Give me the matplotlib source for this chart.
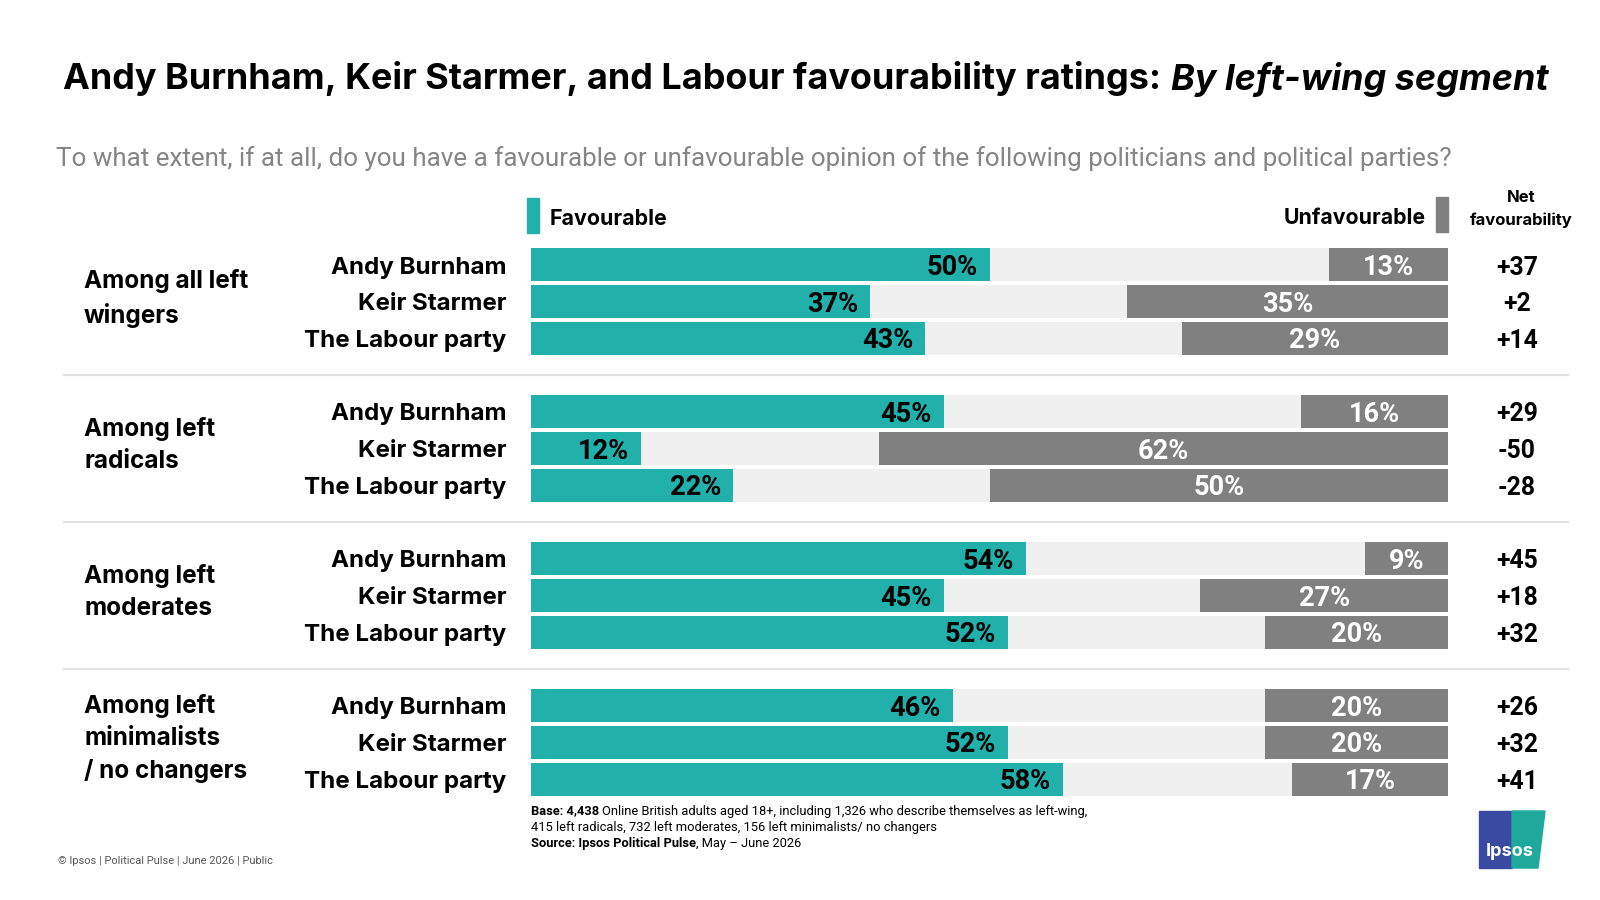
import matplotlib
matplotlib.use('Agg')
import matplotlib.pyplot as plt
import matplotlib.transforms as mtransforms
from matplotlib.patches import Rectangle, Polygon

# Data
groups = ['Among all left\nwingers', 'Among left\nradicals', 'Among left\nmoderates',
          'Among left\nminimalists\n/ no changers']
items = ['Andy Burnham', 'Keir Starmer', 'The Labour party']
favourable = [[50, 37, 43], [45, 12, 22], [54, 45, 52], [46, 52, 58]]
unfavourable = [[13, 35, 29], [16, 62, 50], [9, 27, 20], [20, 20, 17]]
net = [['+37', '+2', '+14'], ['+29', '-50', '-28'], ['+45', '+18', '+32'], ['+26', '+32', '+41']]

TEAL = '#21b0aa'
GREY = '#808080'
TRACK = '#f0f0f0'
W, H = 1600, 900

plt.rcParams['font.family'] = ['Inter', 'DejaVu Sans']


def fx(px):
    return px / W


def fy(py):
    return 1 - py / H


def draw_runs(fig, x, y, runs, gap, **kw):
    # draw text pieces one after another (mixed bold / regular)
    renderer = fig.canvas.get_renderer()
    for s, weight, family in runs:
        t = fig.text(x, y, s, fontweight=weight, family=family, **kw)
        bb = t.get_window_extent(renderer)
        x = x + bb.width / W + gap / W
    return x


fig = plt.figure(figsize=(16, 9), dpi=100)

# main bar axes, x = percent (0-100), y = row index (gap of one row between groups)
top, bottom = 246.6, 797.4
ax = fig.add_axes([fx(531), fy(bottom), fx(1448) - fx(531), (bottom - top) / H])
ax.set_xlim(0, 100)
ax.set_ylim(14.5, -0.5)
ax.axis('off')

left_trans = mtransforms.blended_transform_factory(fig.transFigure, ax.transData)

dy = 0.07  # small nudge so the text sits optically centred on the bars
for g in range(len(groups)):
    for r in range(len(items)):
        y = g * 4 + r
        f = favourable[g][r]
        u = unfavourable[g][r]
        ax.barh(y, 100, height=0.9, color=TRACK)
        ax.barh(y, f, height=0.9, color=TEAL)
        ax.barh(y, u, left=100 - u, height=0.9, color=GREY)
        ax.text(f - 1.3, y + dy, f'{f}%', ha='right', va='center', fontsize=19.5,
                fontweight='bold', family='Roboto', color='black')
        ax.text(100 - u / 2, y + dy, f'{u}%', ha='center', va='center', fontsize=19.5,
                fontweight='bold', family='Roboto', color='white')
        ax.text(107.5, y + dy, net[g][r], ha='center', va='center', fontsize=17.8,
                fontweight='bold', family='Roboto', color='black', clip_on=False)
        ax.text(-2.7, y + dy, items[r], ha='right', va='center', fontsize=17.4,
                fontweight='bold', color='black', clip_on=False)
    # group label on the far left
    ax.text(fx(84), g * 4 + 0.9, groups[g], transform=left_trans, ha='left', va='center',
            fontsize=17.5, fontweight='bold', linespacing=1.5, clip_on=False)

# separators between groups
for ysep in [3, 7, 11]:
    ax.plot([fx(64), fx(1568)], [ysep, ysep], transform=left_trans, color='#e2e2e2',
            lw=1.5, clip_on=False)

# legend swatches
fig.patches.append(Rectangle((fx(527), fy(233)), 12 / W, 35 / H, transform=fig.transFigure,
                             color=TEAL))
fig.text(fx(550), fy(219), 'Favourable', ha='left', va='center', fontsize=15.4, fontweight='bold')
fig.patches.append(Rectangle((fx(1436), fy(232)), 12 / W, 35 / H, transform=fig.transFigure,
                             color=GREY))
fig.text(fx(1426), fy(218), 'Unfavourable', ha='right', va='center', fontsize=15.3,
         fontweight='bold')
fig.text(fx(1521), fy(209), 'Net\nfavourability', ha='center', va='center', fontsize=12,
         fontweight='bold', linespacing=1.55)

# title: bold part + bold italic part, centred as a whole
renderer = fig.canvas.get_renderer()
t1 = fig.text(0, fy(79), 'Andy Burnham, Keir Starmer, and Labour favourability ratings:',
              fontsize=25.9, fontweight='bold', va='center', ha='left')
t2 = fig.text(0, fy(79), 'By left-wing segment', fontsize=25.9, fontweight='bold',
              fontstyle='italic', va='center', ha='left')
w1 = t1.get_window_extent(renderer).width
w2 = t2.get_window_extent(renderer).width
gap = 10
start = (W - (w1 + gap + w2)) / 2 + 6
t1.set_x(fx(start))
t2.set_x(fx(start + w1 + gap))

# subtitle
fig.text(fx(56), fy(159), 'To what extent, if at all, do you have a favourable or unfavourable '
         'opinion of the following politicians and political parties?',
         ha='left', va='center', fontsize=18.7, family='Roboto', color='#858585')

# footnote
kw = dict(fontsize=9.3, va='center', ha='left', color='black')
draw_runs(fig, fx(531), fy(811), [('Base: 4,438', 'bold', 'Roboto'),
                                  ('Online British adults aged 18+, including 1,326 who describe '
                                   'themselves as left-wing,', 'normal', 'Roboto')],
          3, **kw)
fig.text(fx(531), fy(827), '415 left radicals, 732 left moderates, 156 left minimalists/ no changers',
         family='Roboto', **kw)
draw_runs(fig, fx(531), fy(843), [('Source: Ipsos Political Pulse', 'bold', 'Roboto'),
                                  (', May \u2013 June 2026', 'normal', 'Roboto')],
          0, **kw)

fig.text(fx(58), fy(861), '\u00a9 Ipsos | Political Pulse | June 2026 | Public', ha='left',
         va='center', fontsize=7.9, family='Roboto', color='#555555')

# Ipsos logo (simplified)
fig.patches.append(Polygon([(fx(1479), fy(811)), (fx(1512), fy(811)), (fx(1512), fy(868)),
                            (fx(1479), fy(868))], closed=True, transform=fig.transFigure,
                           color='#3a4aa0'))
fig.patches.append(Polygon([(fx(1512), fy(811)), (fx(1545), fy(811)), (fx(1538), fy(868)),
                            (fx(1512), fy(868))], closed=True, transform=fig.transFigure,
                           color='#1fa99d'))
fig.text(fx(1510), fy(852), 'Ipsos', ha='center', va='center', fontsize=13, fontweight='bold',
         color='white')

plt.savefig('out.png', dpi=100)
